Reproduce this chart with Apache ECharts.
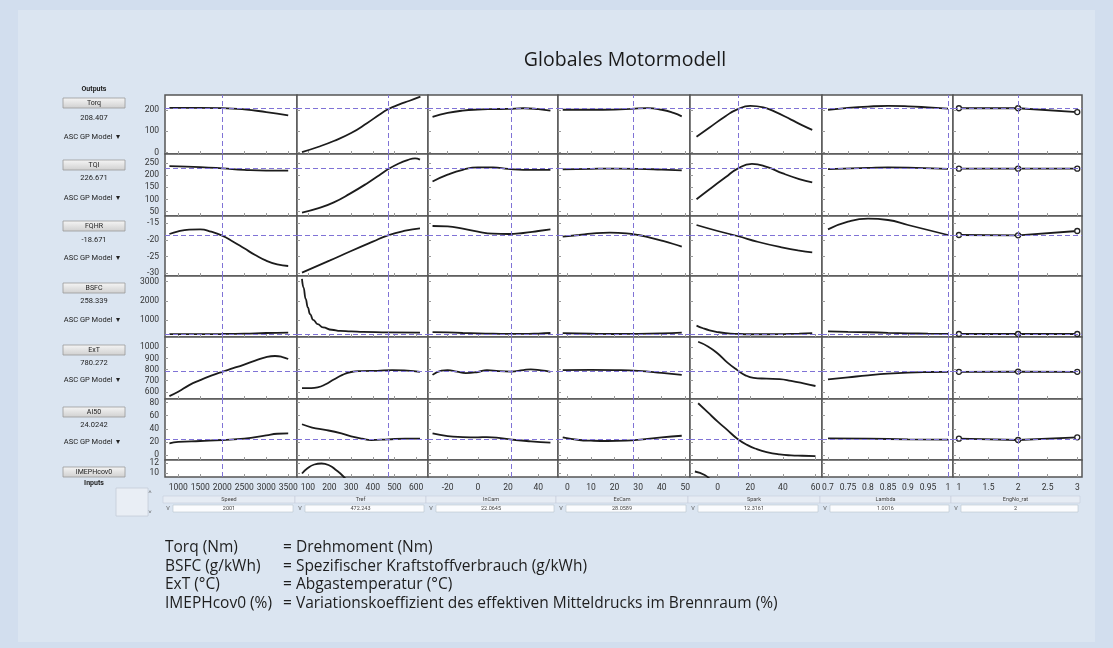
<!DOCTYPE html>
<html>
<head>
<meta charset="utf-8">
<script src="https://cdn.jsdelivr.net/npm/echarts@6/dist/echarts.min.js"></script>
<style>
  html, body { margin: 0; padding: 0; background: #d2deee; }
  .panel { position: absolute; left: 18px; top: 10px; width: 1077px; height: 632px; background: #dbe5f1; }
  #chart { position: absolute; left: 0; top: 0; width: 1113px; height: 648px; }
</style>
</head>
<body>
<div class="panel"></div>
<div id="chart"></div>
<script>
// inputs (columns)
const inputNames = ['Speed', 'Tref', 'InCam', 'ExCam', 'Spark', 'Lambda', 'EngNo_rat'];
const inputValues = ['2001', '472.243', '22.0645', '28.0589', '12.3161', '1.0016', '2'];
const inputRefs = [2001, 472.2, 22.06, 28.06, 12.32, 1.0016, 2];
const xTickLabels = [
  [1000, 1500, 2000, 2500, 3000, 3500],
  [100, 200, 300, 400, 500, 600],
  [-20, 0, 20, 40],
  [0, 10, 20, 30, 40, 50],
  [0, 20, 40, 60],
  [0.7, 0.75, 0.8, 0.85, 0.9, 0.95, 1],
  [1, 1.5, 2, 2.5, 3]
];
const xRanges = [[700, 3700], [50, 655], [-33, 53], [-4, 52], [-17, 64], [0.685, 1.0125], [0.9, 3.08]];

// outputs (rows)
const outputNames = ['Torq', 'TQI', 'FQHR', 'BSFC', 'ExT', 'AI50', 'IMEPHcov0'];
const outputValues = ['208.407', '226.671', '-18.671', '258.339', '780.272', '24.0242'];
const outputRefs = [208.407, 226.671, -18.671, 258.339, 780.272, 24.0242, null];
const yTickLabels = [
  [0, 100, 200],
  [50, 100, 150, 200, 250],
  [-30, -25, -20, -15],
  [1000, 2000, 3000],
  [600, 700, 800, 900, 1000],
  [0, 20, 40, 60, 80],
  [10, 12]
];
const yRanges = [[-6, 270], [32, 287], [-30.8, -12.8], [100, 3300], [535, 1093], [-7.5, 85.5], [9.2, 12.6]];

// model curves, one list per output, one curve per input
const torqCurves = [
  [[800, 210], [1000, 210], [1500, 210], [2000, 209], [2500, 203], [3000, 190], [3500, 175]],
  [[73, 3], [150, 28], [220, 55], [300, 92], [373, 138], [430, 178], [470, 203], [520, 225], [570, 243], [620, 262]],
  [[-30, 168], [-20, 186], [-10, 197], [0, 202], [10, 204], [20, 205], [30, 208], [40, 204], [48, 197]],
  [[-2, 201], [5, 201], [10, 201], [20, 202], [27, 205], [34, 209], [40, 201], [45, 186], [48.5, 170]],
  [[-13, 75], [-5, 118], [5, 172], [12, 203], [20, 219], [28, 212], [35, 192], [45, 155], [52, 128], [58, 107]],
  [[0.7, 201], [0.75, 210], [0.8, 216], [0.85, 219], [0.9, 217], [0.95, 212], [1.0, 206]],
  [[1, 208], [2, 208], [3, 190]]
];
const tqiCurves = [
  [[800, 237], [1000, 236], [1500, 233], [2000, 228], [2500, 222], [3000, 219], [3500, 219]],
  [[73, 46], [150, 64], [220, 88], [295, 124], [373, 166], [430, 200], [470, 224], [520, 248], [560, 262], [595, 269], [618, 264]],
  [[-30, 174], [-20, 202], [-10, 222], [0, 232], [10, 232], [20, 226], [30, 222], [40, 222], [48, 222]],
  [[-2, 224], [10, 226], [20, 227], [30, 226], [40, 223], [48.5, 220]],
  [[-13, 101], [-5, 142], [5, 192], [12, 226], [21, 246], [30, 234], [40, 207], [50, 184], [58, 170]],
  [[0.7, 225], [0.8, 230], [0.85, 232], [0.9, 231], [1.0, 226]],
  [[1, 226.7], [2, 226.7], [3, 226.7]]
];
const fqhrCurves = [
  [[800, -18.2], [1000, -17.4], [1250, -16.9], [1500, -16.8], [1750, -17.5], [2000, -18.7], [2250, -20.5], [2500, -22.5], [2750, -24.5], [3000, -26.2], [3250, -27.3], [3500, -27.8]],
  [[73, -29.8], [200, -26.2], [300, -23.3], [400, -20.5], [470, -18.6], [550, -17.2], [618, -16.5]],
  [[-30, -15.8], [-20, -15.9], [-10, -16.6], [0, -17.5], [10, -18.1], [20, -18.2], [30, -17.9], [40, -17.3], [48, -16.8]],
  [[-2, -19.0], [5, -18.5], [10, -18.1], [18, -17.8], [25, -18.0], [30, -18.5], [35, -19.3], [40, -20.2], [45, -21.2], [48.5, -22.0]],
  [[-13, -15.5], [0, -17.3], [12, -18.8], [25, -20.6], [40, -22.3], [50, -23.2], [58, -23.7]],
  [[0.7, -16.8], [0.75, -14.5], [0.8, -13.6], [0.85, -14.0], [0.9, -15.5], [0.95, -17.0], [1.0, -18.5]],
  [[1, -18.5], [2, -18.6], [3, -17.3]]
];
const bsfcCurves = [
  [[800, 255], [1500, 252], [2000, 258], [2500, 275], [3000, 310], [3500, 330]],
  [[73, 3150], [80, 2700], [90, 2100], [100, 1650], [110, 1300], [125, 1000], [145, 780], [170, 600], [210, 480], [250, 420], [300, 390], [355, 370], [470, 340], [618, 330]],
  [[-30, 360], [-20, 340], [-10, 310], [0, 290], [10, 275], [20, 265], [30, 262], [40, 280], [48, 310]],
  [[-2, 300], [10, 270], [20, 258], [30, 265], [40, 290], [48.5, 330]],
  [[-13, 700], [-9, 560], [-5, 450], [0, 360], [5, 300], [12, 262], [20, 245], [30, 245], [40, 255], [50, 275], [58, 300]],
  [[0.7, 390], [0.75, 370], [0.8, 350], [0.85, 320], [0.9, 295], [0.95, 275], [1.0, 260]],
  [[1, 258], [2, 258], [3, 258]]
];
const extCurves = [
  [[800, 561], [1000, 600], [1250, 660], [1500, 705], [1750, 745], [2000, 780], [2250, 812], [2500, 845], [2750, 880], [3000, 912], [3200, 922], [3350, 915], [3500, 895]],
  [[73, 632], [110, 633], [145, 640], [180, 665], [220, 710], [260, 752], [300, 778], [350, 786], [420, 789], [490, 795], [560, 790], [618, 780]],
  [[-30, 752], [-24, 790], [-20, 795], [-14, 782], [-8, 768], [0, 778], [6, 795], [14, 785], [22, 782], [30, 795], [35, 802], [42, 792], [48, 780]],
  [[-2, 795], [10, 797], [20, 795], [30, 788], [40, 770], [48.5, 752]],
  [[-12, 1050], [-6, 1008], [0, 945], [6, 862], [12, 795], [17, 748], [22, 725], [30, 718], [38, 714], [45, 698], [52, 678], [60, 652]],
  [[0.7, 712], [0.75, 730], [0.8, 748], [0.85, 763], [0.9, 773], [0.95, 778], [1.0, 780]],
  [[1, 780], [2, 782], [3, 780]]
];
const ai50Curves = [
  [[800, 18], [1000, 20], [1500, 21.5], [2000, 23], [2500, 25], [3000, 30], [3250, 32.5], [3500, 33]],
  [[73, 47], [120, 42], [180, 38.5], [255, 33], [300, 28.5], [350, 25], [393, 23], [470, 24], [550, 25], [618, 25]],
  [[-30, 33], [-20, 29], [-10, 27.5], [0, 27], [6, 27.5], [15, 26], [25, 23], [35, 21], [48, 19]],
  [[-2, 27], [5, 23], [10, 22], [17, 21.5], [25, 22], [32, 24], [40, 27], [48.5, 29.5]],
  [[-12, 79], [-6, 65], [0, 51], [6, 38], [12, 25], [18, 15.5], [24, 9], [30, 4.5], [38, 1], [45, -0.5], [52, -1], [60, -1.5]],
  [[0.7, 25.5], [0.8, 25], [0.9, 24], [1.0, 23.5]],
  [[1, 25], [2, 23], [3, 27]]
];
const imephCurves = [
  [],
  [[73, 9.9], [100, 11.0], [130, 11.7], [163, 11.9], [200, 11.5], [230, 10.6], [262, 9.4], [290, 8.0]],
  [],
  [],
  [[-14, 10.3], [-8, 9.6], [-4, 8.5]],
  [],
  []
];

const legendKeys = ['Torq (Nm)', 'BSFC (g/kWh)', 'ExT (°C)', 'IMEPHcov0 (%)'];
const legendTexts = [
  '= Drehmoment (Nm)',
  '= Spezifischer Kraftstoffverbrauch (g/kWh)',
  '= Abgastemperatur (°C)',
  '= Variationskoeffizient des effektiven Mitteldrucks im Brennraum (%)'
];

const allCurves = [torqCurves, tqiCurves, fqhrCurves, bsfcCurves, extCurves, ai50Curves, imephCurves];

// layout of the cell matrix
const colX = [165, 297, 428, 558, 690, 822, 953, 1082];
const rowY = [95, 154, 216, 276, 337, 399, 460, 477];
const uiFont = 'Roboto, "Liberation Sans", sans-serif';
const textFont = '"Open Sans", sans-serif';
const refColor = '#8073d6';

const chart = echarts.init(document.getElementById('chart'), null, { renderer: 'canvas' });

const grids = [], xAxes = [], yAxes = [], series = [];
for (let r = 0; r < 7; r++) {
  for (let c = 0; c < 7; c++) {
    const idx = r * 7 + c;
    grids.push({
      left: colX[c], top: rowY[r],
      width: colX[c + 1] - colX[c], height: rowY[r + 1] - rowY[r],
      show: true, backgroundColor: '#ffffff',
      borderColor: '#555', borderWidth: 1.5,
      outerBoundsMode: 'none'
    });
    xAxes.push({
      type: 'value', gridIndex: idx,
      min: xRanges[c][0], max: xRanges[c][1],
      axisLine: { show: false, onZero: false },
      splitLine: { show: false },
      axisTick: { show: true, inside: true, length: 3, lineStyle: { color: '#9a9a9a' }, customValues: xTickLabels[c] },
      axisLabel: {
        show: r === 6, customValues: xTickLabels[c], formatter: v => String(v),
        fontSize: 8.5, color: '#333', margin: 6, fontFamily: uiFont
      }
    });
    yAxes.push({
      type: 'value', gridIndex: idx,
      min: yRanges[r][0], max: yRanges[r][1],
      axisLine: { show: false, onZero: false },
      splitLine: { show: false },
      axisTick: { show: true, inside: true, length: 3, lineStyle: { color: '#9a9a9a' }, customValues: yTickLabels[r] },
      axisLabel: {
        show: c === 0, customValues: yTickLabels[r], formatter: v => String(v),
        fontSize: 8.5, color: '#333', margin: 6, fontFamily: uiFont
      }
    });
    const marks = [{ xAxis: inputRefs[c] }];
    if (outputRefs[r] !== null) marks.push({ yAxis: outputRefs[r] });
    const steep = (r === 3 && c === 1);
    series.push({
      type: 'line',
      name: outputNames[r] + '/' + inputNames[c],
      xAxisIndex: idx, yAxisIndex: idx,
      data: allCurves[r][c],
      smooth: c === 6 ? false : 0.5,
      smoothMonotone: steep ? 'x' : undefined,
      showSymbol: c === 6,
      symbol: 'circle', symbolSize: 5,
      itemStyle: { color: '#fff', borderColor: '#222', borderWidth: 1.3 },
      lineStyle: { color: '#1c1c1c', width: 1.8 },
      clip: true, silent: true,
      markLine: {
        silent: true, symbol: ['none', 'none'],
        label: { show: false },
        lineStyle: { color: refColor, type: [5, 3], width: 1 },
        data: marks
      }
    });
  }
}

// left-hand output panel and bottom input widgets
const graphics = [];
const txt = (x, y, text, size, opts) => ({
  type: 'text', x, y, silent: true,
  style: Object.assign({ text, fill: '#222', fontSize: size, fontFamily: uiFont, align: 'center', verticalAlign: 'middle' }, opts || {})
});
const btnFill = new echarts.graphic.LinearGradient(0, 0, 0, 1, [
  { offset: 0, color: '#f6f6f6' }, { offset: 1, color: '#cfcfcf' }
]);

graphics.push(txt(94, 89, 'Outputs', 7, { fontWeight: 'bold' }));
const btnY = [103, 165, 226, 288, 350, 412, 472];
const valY = [118, 178, 240, 301, 363, 425];
const ascY = [137, 198, 258, 320, 380, 442];
for (let r = 0; r < 7; r++) {
  graphics.push({ type: 'rect', silent: true, shape: { x: 63, y: btnY[r] - 5, width: 62, height: 10 }, style: { fill: btnFill, stroke: '#9a9a9a', lineWidth: 0.8 } });
  graphics.push(txt(94, btnY[r], outputNames[r], 7));
  if (r < 6) {
    graphics.push(txt(94, valY[r], outputValues[r], 7.5));
    graphics.push(txt(92, ascY[r], 'ASC GP Model  ▾', 7.5));
  }
}
graphics.push(txt(94, 483, 'Inputs', 7, { fontWeight: 'bold' }));
graphics.push({ type: 'rect', silent: true, shape: { x: 116, y: 488, width: 32, height: 28 }, style: { fill: '#e9eef5', stroke: '#c4ccd8', lineWidth: 0.8 } });
graphics.push(txt(150, 492, '˄', 6, { fill: '#555' }));
graphics.push(txt(150, 512, '˅', 6, { fill: '#555' }));

for (let c = 0; c < 7; c++) {
  const x0 = colX[c] - 2, w = colX[c + 1] - colX[c];
  graphics.push({ type: 'rect', silent: true, shape: { x: x0, y: 496, width: w, height: 7 }, style: { fill: '#e6ecf4', stroke: '#c6cedb', lineWidth: 0.6 } });
  graphics.push(txt(x0 + w / 2, 499.5, inputNames[c], 5.5, { fill: '#444' }));
  graphics.push({ type: 'rect', silent: true, shape: { x: x0 + 10, y: 505, width: w - 12, height: 7 }, style: { fill: '#fbfcfe', stroke: '#b9c2cf', lineWidth: 0.6 } });
  graphics.push(txt(x0 + 5, 508.5, 'V', 5.5, { fill: '#555' }));
  graphics.push(txt(x0 + w / 2, 508.5, inputValues[c], 5.5, { fill: '#444' }));
}

// title and legend text
graphics.push(txt(625, 60, 'Globales Motormodell', 19.5, { fill: '#1a1a1a', fontFamily: textFont }));
for (let i = 0; i < legendKeys.length; i++) {
  const y = 548 + i * 18.5;
  graphics.push(txt(165, y, legendKeys[i], 15.5, { align: 'left', fill: '#1e1e1e', fontFamily: textFont }));
  graphics.push(txt(283, y, legendTexts[i], 15.5, { align: 'left', fill: '#1e1e1e', fontFamily: textFont }));
}

chart.setOption({
  backgroundColor: 'transparent',
  animation: false,
  grid: grids,
  xAxis: xAxes,
  yAxis: yAxes,
  series: series,
  graphic: { elements: graphics }
});
window.addEventListener('resize', () => chart.resize());
</script>
</body>
</html>
